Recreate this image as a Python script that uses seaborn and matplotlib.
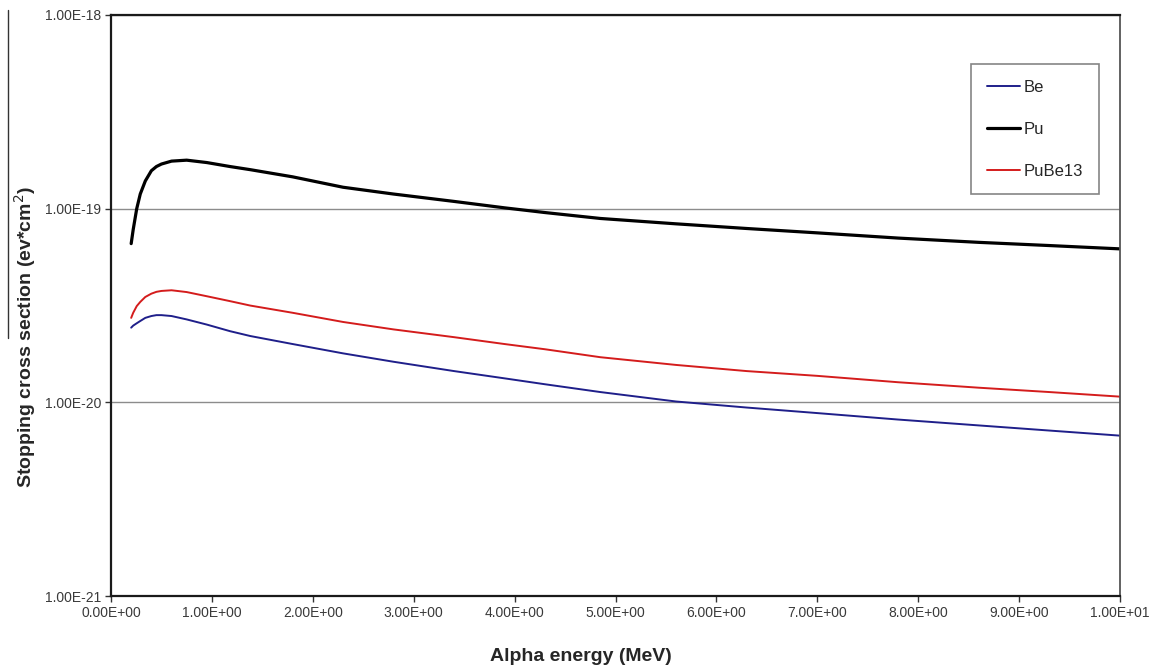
import pandas as pd
import seaborn as sns
import matplotlib.pyplot as plt
from matplotlib.ticker import FuncFormatter, FixedLocator, NullLocator
from matplotlib.lines import Line2D

# values (alpha energy in MeV, stopping cross section in eV*cm^2)
energy = [0.2, 0.22, 0.255, 0.29, 0.34, 0.4, 0.45, 0.5, 0.6, 0.75, 0.95, 1.18, 1.38,
          1.8, 2.3, 2.8, 3.4, 3.9, 4.3, 4.85, 5.6, 6.3, 7.0, 7.8, 8.6, 9.3, 10.0]
pu = [6.6e-20, 7.8e-20, 1.0e-19, 1.19e-19, 1.39e-19, 1.57e-19, 1.65e-19, 1.70e-19,
      1.76e-19, 1.78e-19, 1.73e-19, 1.65e-19, 1.59e-19, 1.46e-19, 1.29e-19, 1.19e-19,
      1.09e-19, 1.01e-19, 9.55e-20, 8.9e-20, 8.35e-20, 7.9e-20, 7.5e-20, 7.05e-20,
      6.7e-20, 6.45e-20, 6.2e-20]
pube13 = [2.73e-20, 2.9e-20, 3.14e-20, 3.3e-20, 3.5e-20, 3.64e-20, 3.72e-20, 3.76e-20,
          3.79e-20, 3.71e-20, 3.53e-20, 3.33e-20, 3.16e-20, 2.9e-20, 2.6e-20, 2.38e-20,
          2.17e-20, 2.0e-20, 1.88e-20, 1.71e-20, 1.56e-20, 1.45e-20, 1.37e-20, 1.27e-20,
          1.19e-20, 1.13e-20, 1.07e-20]
be = [2.43e-20, 2.49e-20, 2.56e-20, 2.63e-20, 2.73e-20, 2.79e-20, 2.82e-20, 2.82e-20,
      2.79e-20, 2.68e-20, 2.52e-20, 2.33e-20, 2.2e-20, 2.0e-20, 1.79e-20, 1.62e-20,
      1.45e-20, 1.33e-20, 1.24e-20, 1.13e-20, 1.01e-20, 9.4e-21, 8.8e-21, 8.15e-21,
      7.6e-21, 7.15e-21, 6.73e-21]

x_ticks = [0, 1, 2, 3, 4, 5, 6, 7, 8, 9, 10]
y_ticks = [1e-21, 1e-20, 1e-19, 1e-18]

df = pd.DataFrame({"energy": energy, "Be": be, "Pu": pu, "PuBe13": pube13})

sns.set_theme(style="white")
plt.rcParams['font.family'] = ['Liberation Sans', 'DejaVu Sans']

fig = plt.figure(figsize=(11.53, 6.68), dpi=100)
ax = fig.add_axes([111 / 1153, 1 - 596 / 668, 1009 / 1153, 581 / 668])

sns.lineplot(data=df, x="energy", y="Be", ax=ax, color="#1f1f8a", linewidth=1.4,
             label="Be", solid_joinstyle="round")
sns.lineplot(data=df, x="energy", y="Pu", ax=ax, color="black", linewidth=2.3,
             label="Pu", solid_joinstyle="round")
sns.lineplot(data=df, x="energy", y="PuBe13", ax=ax, color="#d41c1c", linewidth=1.4,
             label="PuBe13", solid_joinstyle="round")

ax.set_yscale("log")
ax.set_ylim(1e-21, 1e-18)
ax.set_xlim(0, 10)
ax.xaxis.set_major_locator(FixedLocator(x_ticks))
ax.yaxis.set_major_locator(FixedLocator(y_ticks))
ax.yaxis.set_minor_locator(NullLocator())
ax.xaxis.set_major_formatter(FuncFormatter(lambda v, p: "%.2E" % v))
ax.yaxis.set_major_formatter(FuncFormatter(lambda v, p: "%.2E" % v))

ax.yaxis.grid(True, color="#8c8c8c", linewidth=1.0)
ax.xaxis.grid(False)

for side in ["left", "bottom", "top"]:
    ax.spines[side].set_color("#1a1a1a")
    ax.spines[side].set_linewidth(1.6)
ax.spines["right"].set_color("#555555")
ax.spines["right"].set_linewidth(1.3)

ax.tick_params(axis="both", which="major", direction="out", length=4, width=1,
               color="#333333", labelsize=10, labelcolor="#3a3a3a", pad=3,
               bottom=True, left=True)

ax.set_xlabel("Alpha energy (MeV)", fontsize=14, fontweight="bold")
ax.xaxis.set_label_coords(0.466, -0.089)
ax.set_ylabel("Stopping cross section (ev*cm$^2$)", fontsize=14, fontweight="bold")
ax.yaxis.set_label_coords(-0.072, 0.446)

leg = ax.legend(loc="upper left", bbox_to_anchor=(0.852, 0.916), fontsize=12,
                frameon=True, fancybox=False, edgecolor="#666666",
                labelspacing=1.62, handlelength=2.0, handletextpad=0.25,
                borderpad=0.95, borderaxespad=0)
leg.get_frame().set_linewidth(1.2)

# thin stray line at the left edge of the original figure
fig.add_artist(Line2D([8 / 1153, 8 / 1153], [1 - 10 / 668, 1 - 338 / 668],
                      color="#333333", linewidth=1))

fig.savefig("out.png", dpi=100)
